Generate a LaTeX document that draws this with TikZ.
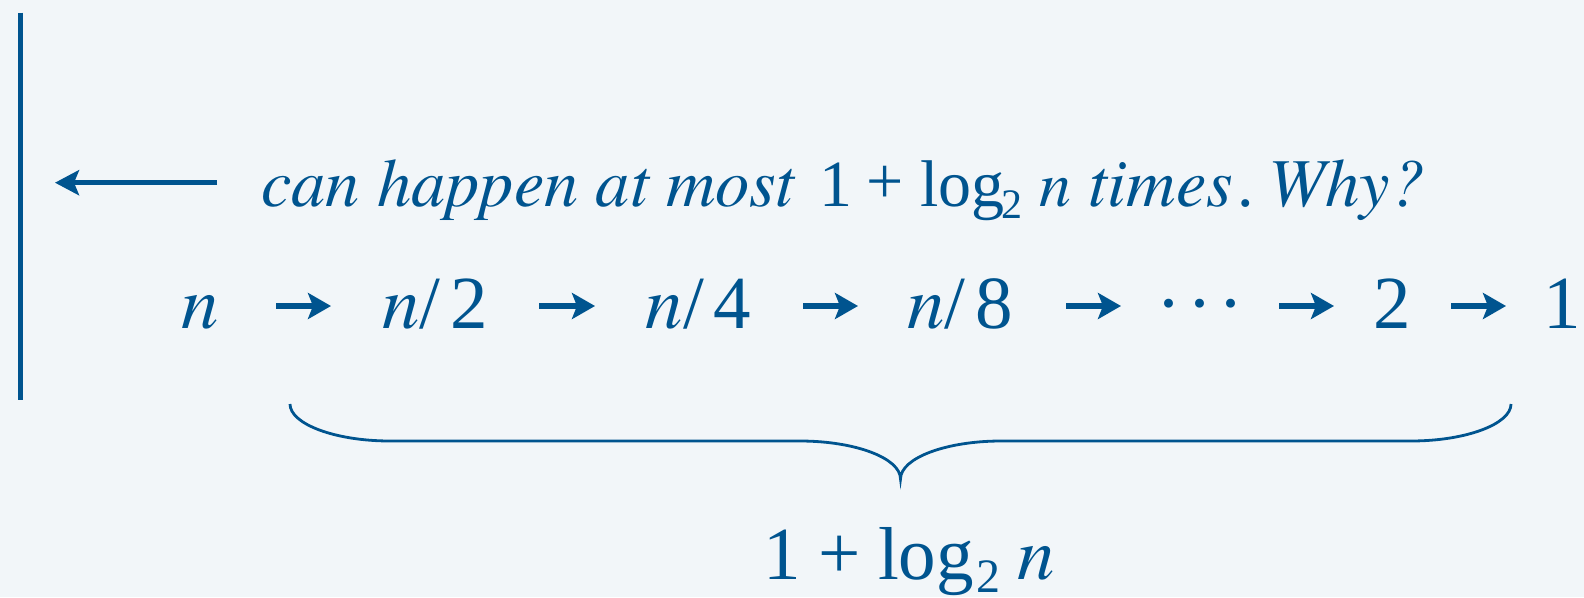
\documentclass[tikz,border=0pt]{standalone}
\usepackage{fontspec}
\setmainfont{Liberation Serif}
\usetikzlibrary{arrows.meta}
\IfFontExistsTF{texgyretermes-italic.otf}{%
  \newfontfamily\itfam{texgyretermes-italic.otf}%
  \newcommand{\topitsize}{68.5}\newcommand{\chainitsize}{75}\newcommand{\topnsize}{64}\newcommand{\nkern}{0pt}%
}{%
  \newcommand{\itfam}{\usefont{TU}{lmr}{m}{it}}%
  \newcommand{\topitsize}{64}\newcommand{\chainitsize}{73}\newcommand{\topnsize}{62}\newcommand{\nkern}{-3pt}%
}
\definecolor{ink}{HTML}{00548F}
\definecolor{bg}{HTML}{F2F6F9}
\newcommand{\chainfont}{\fontsize{75}{90}\selectfont}
\newcommand{\chainitfont}{\fontsize{\chainitsize}{90}\selectfont\itfam}
\newcommand{\topfont}{\fontsize{66}{80}\selectfont}
\newcommand{\topitfont}{\fontsize{\topitsize}{80}\selectfont\itfam}
\newcommand{\topnfont}{\fontsize{\topnsize}{80}\selectfont\itfam}
\newcommand{\topsubfont}{\fontsize{42}{50}\selectfont}
\newcommand{\botsubfont}{\fontsize{48}{56}\selectfont}
\begin{document}
\begin{tikzpicture}[x=1pt,y=-1pt,
  every node/.style={inner sep=0pt, outer sep=0pt, text=ink},
  term/.style={anchor=base, font=\chainfont},
  topword/.style={font=\topfont},
  topitword/.style={font=\topitfont},
  chainarrow/.style={draw=ink, line width=5.5pt, -{Stealth[length=23pt,width=26pt,inset=5pt]}},
  backarrow/.style={draw=ink, line width=5pt, -{Stealth[length=24pt,width=25pt,inset=5pt]}},
  barline/.style={draw=ink, line width=5pt},
  bracepath/.style={draw=ink, line width=2.8pt},
]
\fill[bg] (0,0) rectangle (1584,597);
\useasboundingbox (0,0) rectangle (1584,597);

% vertical bar
\coordinate (bartop) at (20.5,12.5);
\coordinate (barbot) at (20.5,400);
\draw[barline] (bartop) -- (barbot);

% top line
\node[topitword, anchor=base west] (can) at (261,206) {can happen at most};
\node[topword, anchor=base] (one) at (835.5,206) {1};
\node[topword, anchor=center] (plus) at (885.5,185) {+};
\node[topword, anchor=base west] (log) at (920,206) {log};
\node[font=\topsubfont, anchor=base] (logsub) at (1012,218) {2};
\node[font=\topnfont, anchor=base] (topn) at (1055,206) {n};
\node[topitword, anchor=base] (times) at (1161,206) {times};
\node[topword, anchor=base] (dot) at (1246,206) {.};
\node[topitword, anchor=base] (why) at (1346.5,206) {Why?};

% back arrow
\coordinate (backstart) at (217,182.7);
\draw[backarrow, shorten >=34.5pt] (backstart) -- (backstart -| bartop);

% chain
\node[term, font=\chainitfont] (n)  at (200,328) {n};
\node[term] (n2) at (435,328)   {{\chainitfont n}\kern\nkern/\kern10pt 2};
\node[term] (n4) at (698.5,328) {{\chainitfont n}\kern\nkern/\kern10pt 4};
\node[term] (n8) at (960,328)   {{\chainitfont n}\kern\nkern/\kern10pt 8};
\node[term] (dots) at (1200,328) {\textperiodcentered\kern6.25pt\textperiodcentered\kern6.25pt\textperiodcentered};
\node[term] (two) at (1392,328) {2};
\node[term] (last) at (1562.5,328) {1};

\draw[chainarrow] ([shift={(76,-22)}]n.base) -- ([shift={(-104,-22)}]n2.base);
\draw[chainarrow] ([shift={(104,-22)}]n2.base) -- ([shift={(-103.5,-22)}]n4.base);
\draw[chainarrow] ([shift={(104.5,-22)}]n4.base) -- ([shift={(-102,-22)}]n8.base);
\draw[chainarrow] ([shift={(106,-22)}]n8.base) -- ([shift={(-79,-22)}]dots.base);
\draw[chainarrow] ([shift={(79,-22)}]dots.base) -- ([shift={(-58,-22)}]two.base);
\draw[chainarrow] ([shift={(59,-22)}]two.base) -- ([shift={(-56.5,-22)}]last.base);

% brace
\draw[bracepath] (290,404) .. controls (290,424) and (335,441) .. (390,441)
  -- (800,441) .. controls (855,441) and (900.5,458) .. (900.5,479)
  .. controls (900.5,458) and (946,441) .. (1001,441)
  -- (1411,441) .. controls (1466,441) and (1511,424) .. (1511,404);

% bottom label
\node[term] (bone) at (782,579) {1};
\node[font=\chainfont, anchor=center] (bplus) at (840,557) {+};
\node[font=\chainfont, anchor=base west] (blog) at (878,579) {log};
\node[font=\botsubfont, anchor=base] (bsub) at (988,592) {2};
\node[font=\chainitfont, anchor=base] (bn) at (1036.5,579) {n};
\end{tikzpicture}
\end{document}
